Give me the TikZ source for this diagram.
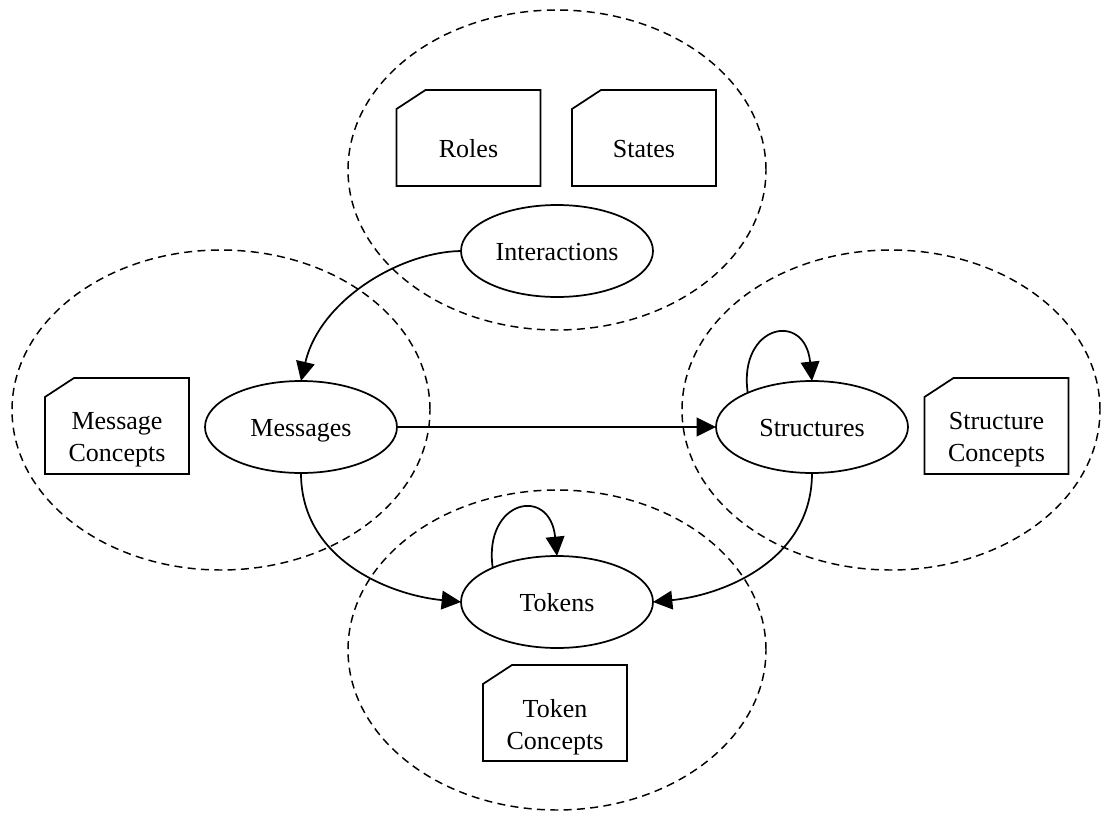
\documentclass[tikz,border=0pt]{standalone}
\usepackage{fontspec}
\setmainfont{Liberation Serif}
\usetikzlibrary{shapes.geometric,arrows.meta,calc}

% outline of a note box with its top-left corner cut off
\newcommand{\cutnote}[1]{%
  \draw[noteline] (#1.south west) -- ($(#1.north west)+(0,19)$)
    -- ($(#1.north west)+(29,0)$) -- (#1.north east) -- (#1.south east) -- cycle;}

\begin{document}
\begin{tikzpicture}[x=0.75pt,y=-0.75pt,
  every node/.style={font=\fontsize{19.5}{24}\selectfont, inner sep=0pt, outer sep=0pt},
  cluster/.style={draw, ellipse, dash pattern=on 6pt off 4pt, line width=1.1pt,
    minimum width=313.5pt, minimum height=240pt},
  proc/.style={draw, ellipse, line width=1.3pt, minimum width=144pt, minimum height=69pt,
    text height=13.6pt, text depth=0pt},
  notebox/.style={minimum width=108pt, minimum height=72pt},
  noteline/.style={line width=1.3pt, line join=miter},
  notetext/.style={anchor=base, align=center},
  edge/.style={line width=1.3pt, -{Triangle[length=14.5pt,width=14pt]}}]

\useasboundingbox (0,0) rectangle (1101,814);

% dashed groups
\node[cluster] (topgrp)   at (557,170) {};
\node[cluster] (leftgrp)  at (221,410) {};
\node[cluster] (rightgrp) at (891,410) {};
\node[cluster] (botgrp)   at (557,650) {};

% note boxes
\node[notebox] (rolesbox)  at (468.5,138) {};
\node[notebox] (statesbox) at (644,138) {};
\node[notebox] (mconbox)   at (117,426) {};
\node[notebox] (sconbox)   at (996.5,426) {};
\node[notebox] (tconbox)   at (555,713) {};
\cutnote{rolesbox}
\cutnote{statesbox}
\cutnote{mconbox}
\cutnote{sconbox}
\cutnote{tconbox}
\node[notetext] (roles)  at (468.5,157) {Roles};
\node[notetext] (states) at (644,157) {States};
\node[notetext] (mcon)   at (117,461) {Message\\Concepts};
\node[notetext] (scon)   at (996.5,461) {Structure\\Concepts};
\node[notetext] (tcon)   at (555,749) {Token\\Concepts};

% processes
\node[proc] (inter) at (557,251) {Interactions};
\node[proc] (msg)   at (301,427) {Messages};
\node[proc] (str)   at (812,427) {Structures};
\node[proc] (tok)   at (557,602) {Tokens};

% connectors
\draw[edge] (inter.west) .. controls (400,252) and (320,300) .. (msg.north);
\draw[edge] (msg.east) -- (str.west);
\draw[edge] (msg.south) .. controls (301,560) and (390,595) .. (tok.west);
\draw[edge] (str.south) .. controls (812,560) and (724,595) .. (tok.east);
\draw[edge] (str.152) .. controls (738,325) and (805,310) .. (str.north);
\draw[edge] (tok.152) .. controls (483,500) and (550,485) .. (tok.north);
\end{tikzpicture}
\end{document}
